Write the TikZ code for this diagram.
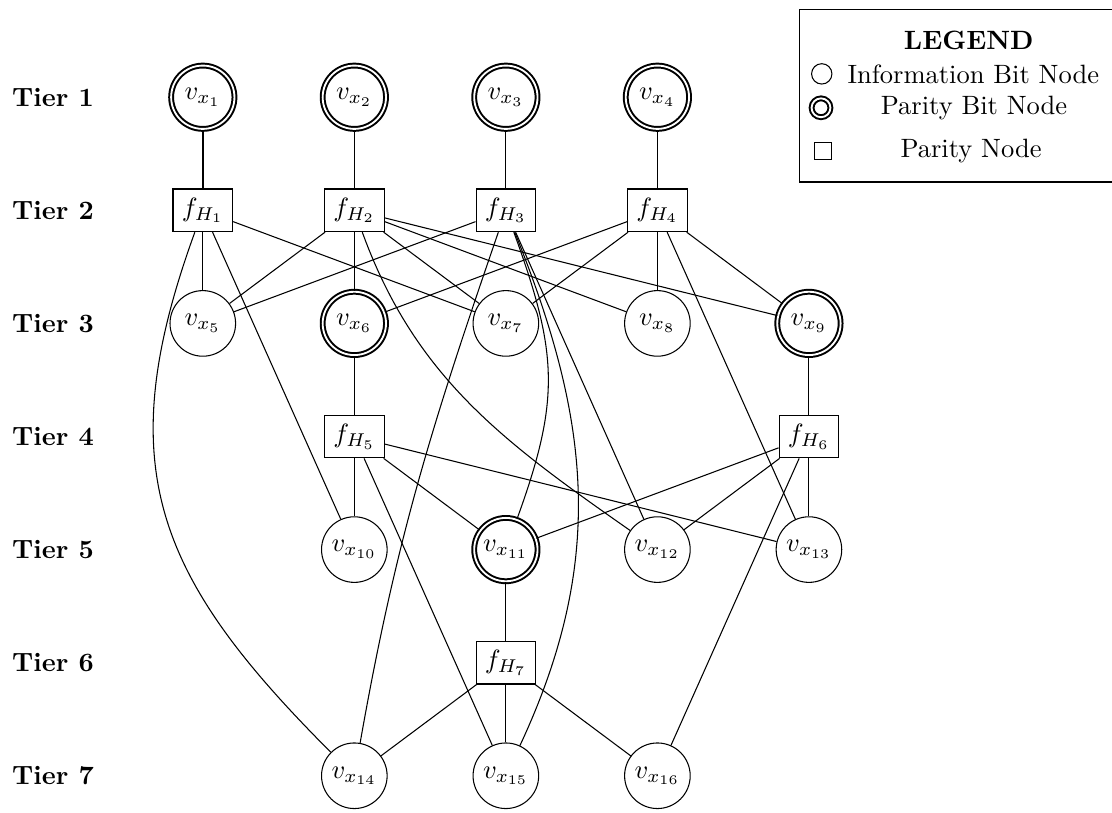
\documentclass[tikz,border=0pt]{standalone}
\begin{document}
\begin{tikzpicture}[
  bitnode/.style={circle, draw, minimum size=0.87cm, inner sep=1pt},
  paritybit/.style={bitnode, double, double distance=0.7pt, line width=0.75pt, minimum size=0.84cm},
  checknode/.style={rectangle, draw},
  tierlabel/.style={anchor=west, inner sep=0pt, font=\bfseries},
  legendbox/.style={draw},
  legendsym/.style={draw, inner sep=0pt}
]
\useasboundingbox (0,0) rectangle (14.75,-10.78);

% tier labels
\foreach \t/\y in {1/-1.29, 2/-2.79, 3/-4.29, 4/-5.79, 5/-7.29, 6/-8.79, 7/-10.29}
  \node[tierlabel] (tier\t) at (0.155,\y) {Tier \t};

% tier 1
\node[paritybit] (v1) at (2.69,-1.29) {$v_{x_1}$};
\node[paritybit] (v2) at (4.70,-1.29) {$v_{x_2}$};
\node[paritybit] (v3) at (6.71,-1.29) {$v_{x_3}$};
\node[paritybit] (v4) at (8.72,-1.29) {$v_{x_4}$};
% tier 2
\node[checknode] (f1) at (2.69,-2.79) {$f_{H_1}$};
\node[checknode] (f2) at (4.70,-2.79) {$f_{H_2}$};
\node[checknode] (f3) at (6.71,-2.79) {$f_{H_3}$};
\node[checknode] (f4) at (8.72,-2.79) {$f_{H_4}$};
% tier 3
\node[bitnode]   (v5) at (2.69,-4.29) {$v_{x_5}$};
\node[paritybit] (v6) at (4.70,-4.29) {$v_{x_6}$};
\node[bitnode]   (v7) at (6.71,-4.29) {$v_{x_7}$};
\node[bitnode]   (v8) at (8.72,-4.29) {$v_{x_8}$};
\node[paritybit] (v9) at (10.73,-4.29) {$v_{x_9}$};
% tier 4
\node[checknode] (f5) at (4.70,-5.79) {$f_{H_5}$};
\node[checknode] (f6) at (10.73,-5.79) {$f_{H_6}$};
% tier 5
\node[bitnode]   (v10) at (4.70,-7.29) {$v_{x_{10}}$};
\node[paritybit] (v11) at (6.71,-7.29) {$v_{x_{11}}$};
\node[bitnode]   (v12) at (8.72,-7.29) {$v_{x_{12}}$};
\node[bitnode]   (v13) at (10.73,-7.29) {$v_{x_{13}}$};
% tier 6
\node[checknode] (f7) at (6.71,-8.79) {$f_{H_7}$};
% tier 7
\node[bitnode] (v14) at (4.70,-10.29) {$v_{x_{14}}$};
\node[bitnode] (v15) at (6.71,-10.29) {$v_{x_{15}}$};
\node[bitnode] (v16) at (8.72,-10.29) {$v_{x_{16}}$};

% straight connections
\draw[line width=0.6pt] (v1) -- (f1);
\foreach \a/\b in {v2/f2, v3/f3, v4/f4,
                   f1/v5, f1/v7, f1/v10,
                   f2/v5, f2/v6, f2/v7, f2/v8, f2/v9,
                   f3/v5, f3/v12,
                   f4/v6, f4/v7, f4/v8, f4/v9, f4/v13,
                   v6/f5, f5/v10, f5/v11, f5/v13, f5/v15,
                   v9/f6, f6/v11, f6/v12, f6/v13, f6/v16,
                   v11/f7, f7/v14, f7/v15, f7/v16}
  \draw (\a) -- (\b);

% curved connections
\draw (f1) to[out=250, in=135, distance=3.3cm] (v14);
\draw (f3) to[out=-70, in=70, distance=1.7cm] (v11);
\draw (f3) to[out=-68, in=65, distance=2.7cm] (v15);
\draw (f2) to[out=-70, in=145, distance=2.05cm] (v12);
\draw (f3) to[out=-109, in=80] (v14);

% legend
\draw[legendbox] (14.75,-0.126) -- (10.6,-0.126) -- (10.6,-2.414) -- (14.75,-2.414);
\node[font=\bfseries] (lgtitle) at (12.85,-0.53) {LEGEND};
\node[legendsym, circle, minimum size=0.27cm] (lgsym1) at (10.90,-0.98) {};
\node (lgtext1) at (12.91,-0.98) {Information Bit Node};
\node[legendsym, circle, double, double distance=0.7pt, line width=0.75pt, minimum size=0.25cm] (lgsym2) at (10.89,-1.43) {};
\node (lgtext2) at (12.92,-1.43) {Parity Bit Node};
\node[legendsym, rectangle, minimum size=0.225cm] (lgsym3) at (10.92,-2.0) {};
\node (lgtext3) at (12.88,-2.0) {Parity Node};
\end{tikzpicture}
\end{document}
